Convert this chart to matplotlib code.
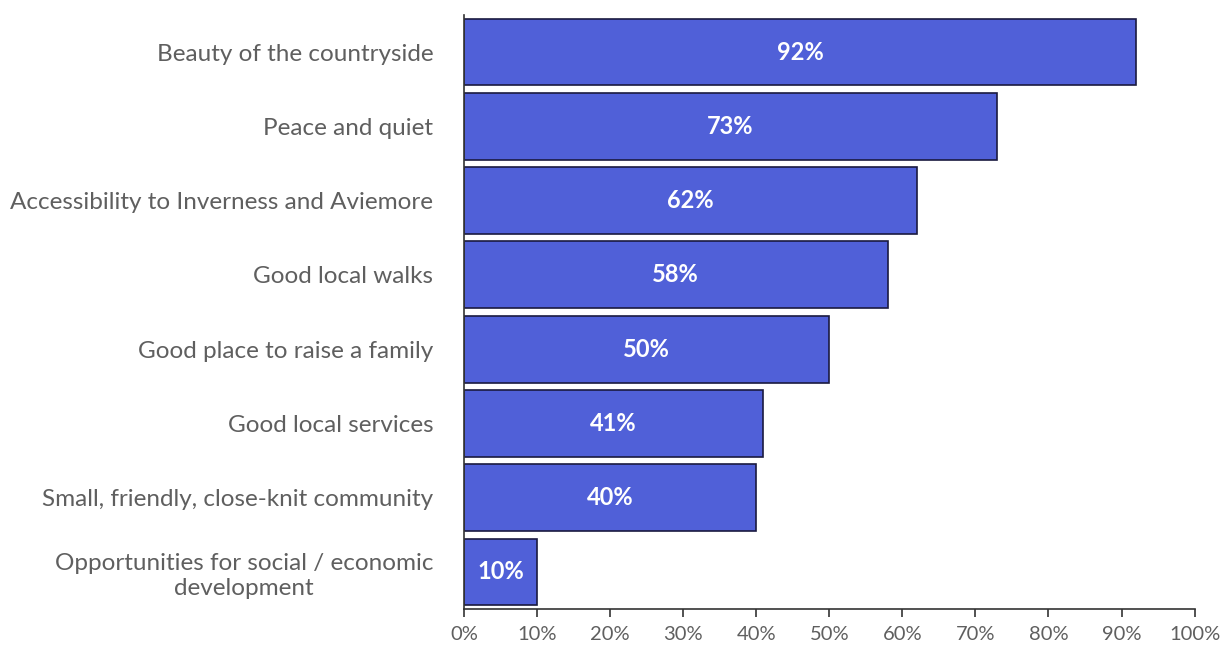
import matplotlib.pyplot as plt
from matplotlib.ticker import PercentFormatter

categories = [
    "Beauty of the countryside",
    "Peace and quiet",
    "Accessibility to Inverness and Aviemore",
    "Good local walks",
    "Good place to raise a family",
    "Good local services",
    "Small, friendly, close-knit community",
    "Opportunities for social / economic\ndevelopment",
]
shares = [92, 73, 62, 58, 50, 41, 40, 10]
xticks = [0, 10, 20, 30, 40, 50, 60, 70, 80, 90, 100]

plt.rcParams["font.family"] = ["Lato", "DejaVu Sans"]

fig = plt.figure(figsize=(12.24, 6.5), dpi=100)
ax = fig.add_axes([0.379, 0.063, 0.597, 0.914])

ypos = list(range(len(categories)))
bars = ax.barh(ypos, shares, height=0.9, color="#5060d8",
               edgecolor="#1a1a40", linewidth=1.2)
ax.set_ylim(len(categories) - 0.5, -0.5)
ax.set_xlim(0, 100)

for b, v in zip(bars, shares):
    ax.text(v / 2, b.get_y() + b.get_height() / 2, f"{v}%",
            ha="center", va="center", color="white",
            fontsize=17, fontweight="bold")

ax.set_yticks(ypos)
ax.set_yticklabels(categories, fontsize=17.5, color="#5f5f5f",
                   multialignment="center", linespacing=1.25)
ax.tick_params(axis="y", length=0, pad=22)

ax.set_xticks(xticks)
ax.xaxis.set_major_formatter(PercentFormatter(decimals=0))
ax.tick_params(axis="x", length=6, width=1.2, color="#333333",
               labelsize=14.5, labelcolor="#5f5f5f", pad=6)

for s in ["top", "right"]:
    ax.spines[s].set_visible(False)
for s in ["left", "bottom"]:
    ax.spines[s].set_color("#333333")
    ax.spines[s].set_linewidth(1.2)

fig.savefig("out.png", dpi=100)
